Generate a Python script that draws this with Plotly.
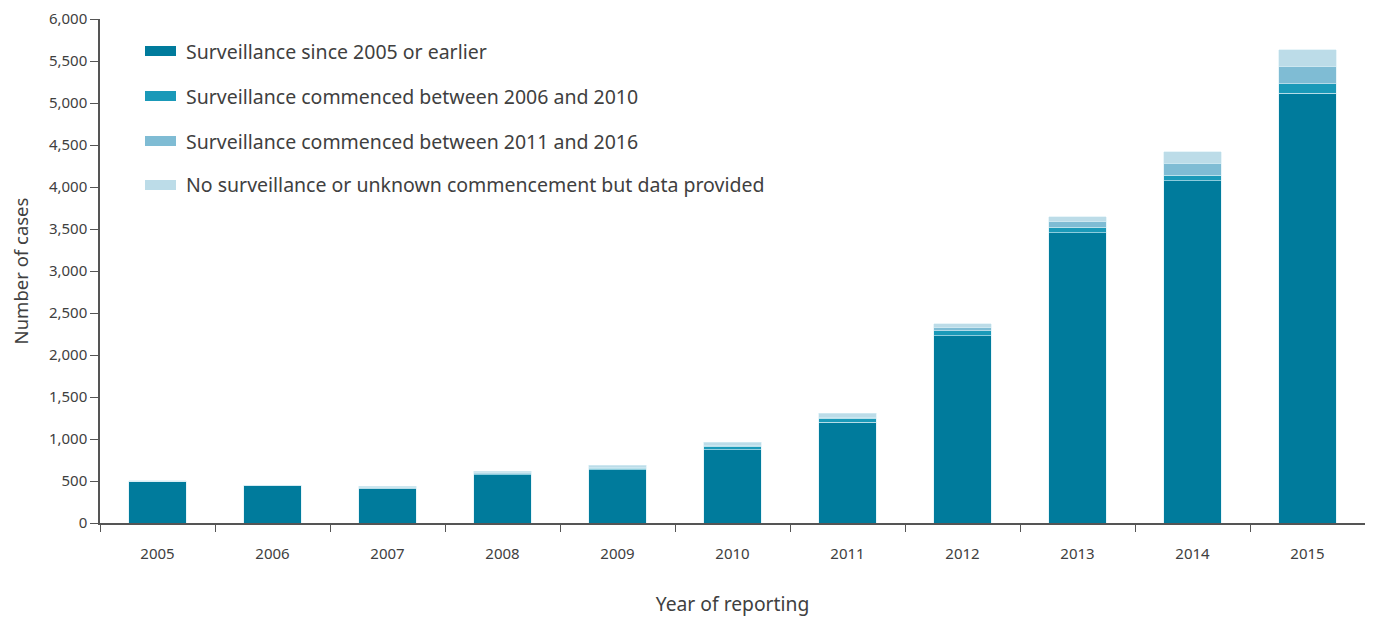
import plotly.graph_objects as go

years = ["2005", "2006", "2007", "2008", "2009", "2010", "2011", "2012", "2013", "2014", "2015"]
since_2005 = [500, 445, 412, 575, 637, 874, 1201, 2230, 3455, 4072, 5115]
from_2006_2010 = [0, 0, 5, 12, 15, 40, 45, 59, 67, 67, 115]
from_2011_2016 = [0, 0, 3, 10, 12, 12, 15, 36, 63, 142, 202]
no_surveillance = [3, 3, 15, 20, 24, 36, 43, 47, 59, 142, 202]

series_names = [
    "Surveillance since 2005 or earlier",
    "Surveillance commenced between 2006 and 2010",
    "Surveillance commenced between 2011 and 2016",
    "No surveillance or unknown commencement but data provided",
]
series_values = [since_2005, from_2006_2010, from_2011_2016, no_surveillance]
colors = ["#007b9c", "#1a99b8", "#7fbcd4", "#bcdce8"]

y_ticks = [0, 500, 1000, 1500, 2000, 2500, 3000, 3500, 4000, 4500, 5000, 5500, 6000]
y_ticktext = [f"{v:,}" for v in y_ticks]

FONT = "Noto Sans"
TXT = "#404040"
AX = "#555555"

fig = go.Figure()
for name, vals, col in zip(series_names, series_values, colors):
    fig.add_trace(go.Bar(
        x=years, y=vals, name=name,
        marker=dict(color=col, line=dict(width=0.6, color="#d8eef5")),
        showlegend=False,
    ))

# page body has an 8px margin; compensate so the plot lands where the reference has it
OFF = 8
W, H = 1373 - OFF, 619 - OFF
ml, mr, mt, mb = 100 - OFF, 8, 19 - OFF, 96
pw, ph = W - ml - mr, H - mt - mb

shapes = []
annotations = []
leg_y = [51, 96, 141, 185]
for name, col, yy in zip(series_names, colors, leg_y):
    yc = yy - OFF
    y_top = 1 - (yc - 5 - mt) / ph
    y_bot = 1 - (yc + 5 - mt) / ph
    shapes.append(dict(type="rect", xref="paper", yref="paper",
                       x0=(145 - OFF - ml) / pw, x1=(176 - OFF - ml) / pw, y0=y_bot, y1=y_top,
                       fillcolor=col, line=dict(width=0)))
    annotations.append(dict(text=name, xref="paper", yref="paper",
                            x=(184 - OFF - ml) / pw, y=1 - (yc - mt) / ph,
                            xanchor="left", yanchor="middle", showarrow=False,
                            font=dict(family=FONT, size=19.5, color=TXT)))

fig.update_layout(
    barmode="stack",
    bargap=0.5,
    width=W, height=H,
    margin=dict(l=ml, r=mr, t=mt, b=mb, autoexpand=False),
    plot_bgcolor="white", paper_bgcolor="white",
    font=dict(family=FONT, color=TXT),
    shapes=shapes,
    annotations=annotations,
    xaxis=dict(
        type="category",
        showline=True, linecolor=AX, linewidth=1.5,
        ticks="outside", tickson="boundaries", ticklen=7, tickcolor=AX, tickwidth=1.2,
        tickfont=dict(family=FONT, size=15, color=TXT),
        ticklabelstandoff=16,
        title=dict(text="Year of reporting", font=dict(family=FONT, size=19.3, color=TXT), standoff=36),
        showgrid=False, mirror=False, automargin=False,
    ),
    yaxis=dict(
        range=[0, 6000.5],
        tickvals=y_ticks, ticktext=y_ticktext,
        showline=True, linecolor=AX, linewidth=1.5,
        ticks="outside", ticklen=8, tickcolor=AX, tickwidth=1.2,
        tickfont=dict(family=FONT, size=15, color=TXT),
        ticklabeloverflow="allow",
        title=dict(text="Number of cases", font=dict(family=FONT, size=18.5, color=TXT), standoff=26),
        showgrid=False, zeroline=False, automargin=False,
    ),
)

fig.write_html("out.html")
